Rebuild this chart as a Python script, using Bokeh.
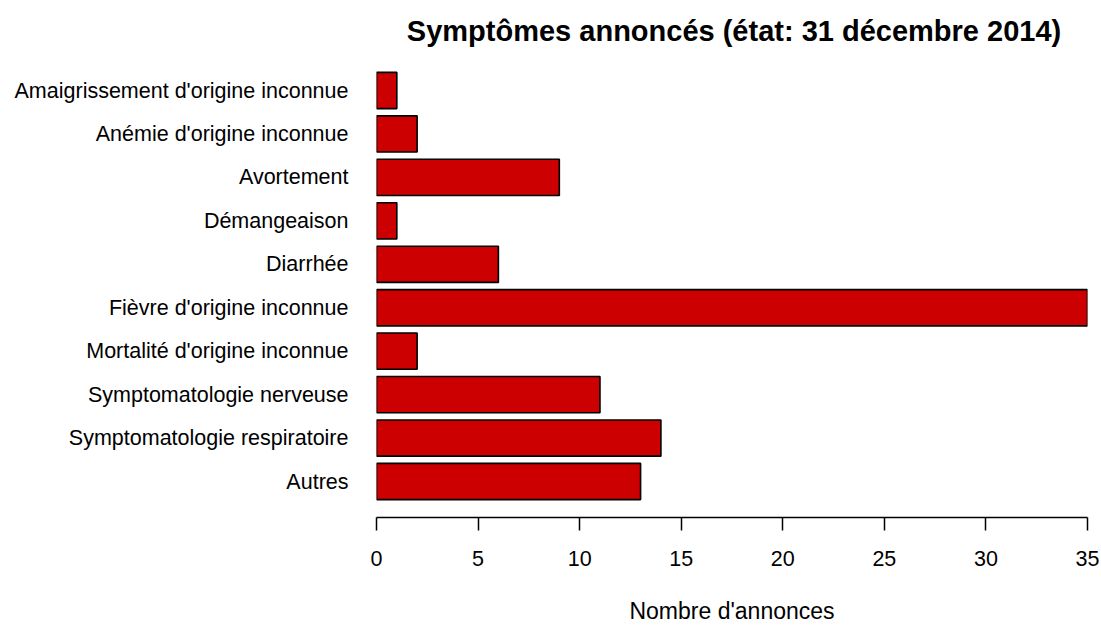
from bokeh.plotting import figure
from bokeh.models import Range1d, FixedTicker, Label, ColumnDataSource
from bokeh.embed import file_html
from bokeh.resources import INLINE

categories = [
    "Amaigrissement d'origine inconnue",
    "Anémie d'origine inconnue",
    "Avortement",
    "Démangeaison",
    "Diarrhée",
    "Fièvre d'origine inconnue",
    "Mortalité d'origine inconnue",
    "Symptomatologie nerveuse",
    "Symptomatologie respiratoire",
    "Autres",
]
counts = [1, 2, 9, 1, 6, 35, 2, 11, 14, 13]
x_ticks = [0, 5, 10, 15, 20, 25, 30, 35]
title_text = "Symptômes annoncés (état: 31 décembre 2014)"
x_label = "Nombre d'annonces"

FONT = "Liberation Sans"
centers = [-1.2 * i for i in range(len(categories))]

p = figure(
    output_backend="svg",
    toolbar_location=None,
    frame_width=711,
    frame_height=517,
    min_border_left=376,
    min_border_right=14,
    min_border_top=0,
    min_border_bottom=110,
    x_range=Range1d(0, 35),
    y_range=Range1d(-11.794, 2.486),
    tools="",
)
p.outline_line_color = None
p.grid.grid_line_color = None
p.background_fill_color = "white"
p.border_fill_color = "white"

src = ColumnDataSource(dict(y=centers, right=counts))
p.hbar(y="y", left=0, right="right", height=1.0, source=src,
       fill_color="#CC0000", line_color="black", line_width=1.6)

# x axis
xa = p.xaxis[0]
xa.ticker = FixedTicker(ticks=x_ticks)
xa.minor_tick_line_color = None
xa.major_tick_in = 0
xa.major_tick_out = 13
xa.axis_line_width = 1.5
xa.major_tick_line_width = 1.5
xa.axis_line_color = "black"
xa.major_tick_line_color = "black"
xa.major_label_text_font = FONT
xa.major_label_text_font_size = "21.5px"
xa.major_label_text_color = "black"
xa.major_label_standoff = 20
xa.axis_label = x_label
xa.axis_label_text_font = FONT
xa.axis_label_text_font_size = "23px"
xa.axis_label_text_font_style = "normal"
xa.axis_label_text_color = "black"
xa.axis_label_standoff = 29

# y axis
ya = p.yaxis[0]
ya.ticker = FixedTicker(ticks=centers)
ya.major_label_overrides = {c: lab for c, lab in zip(centers, categories)}
ya.axis_line_color = None
ya.major_tick_line_color = None
ya.minor_tick_line_color = None
ya.major_tick_in = 0
ya.major_tick_out = 0
ya.major_label_text_font = FONT
ya.major_label_text_font_size = "21.5px"
ya.major_label_text_color = "black"
ya.major_label_standoff = 28

p.add_layout(Label(x=17.6, y=1.63, text=title_text, text_align="center",
                   text_baseline="middle", text_font=FONT,
                   text_font_size="29px", text_font_style="bold",
                   text_color="black"))

open("out.html", "w").write(file_html(p, INLINE))
